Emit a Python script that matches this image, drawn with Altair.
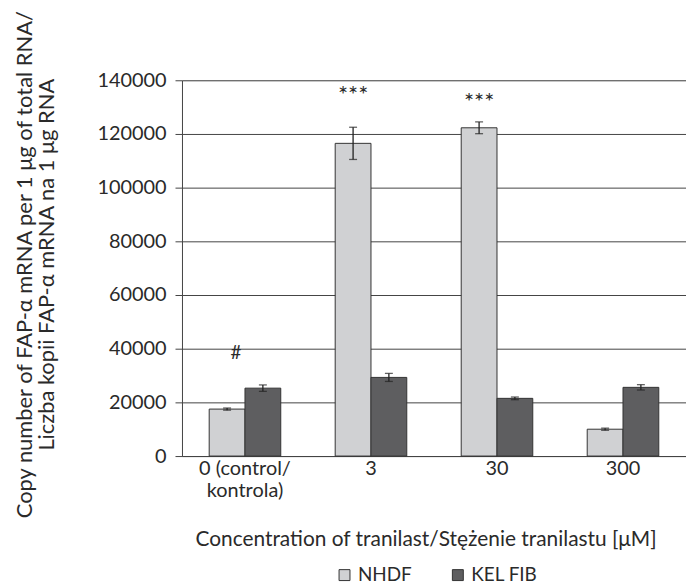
import altair as alt
import pandas as pd

categories = ["0 (control/|kontrola)", "3", "30", "300"]
series = ["NHDF", "KEL FIB"]
nhdf_values = [17500, 116500, 122300, 10000]
nhdf_err = [400, 6000, 2200, 400]
kel_values = [25300, 29300, 21500, 25600]
kel_err = [1200, 1500, 500, 1000]
y_ticks = [0, 20000, 40000, 60000, 80000, 100000, 120000, 140000]

star_cat = ["3", "30"]
star_series = ["NHDF", "NHDF"]
star_text = ["***", "***"]
star_y = [134000, 131500]
hash_cat = ["0 (control/|kontrola)"]
hash_series = ["NHDF"]
hash_text = ["#"]
hash_y = [38500]

rows = []
for i, c in enumerate(categories):
    rows.append({"cat": c, "series": "NHDF", "v": nhdf_values[i], "lo": nhdf_values[i] - nhdf_err[i], "hi": nhdf_values[i] + nhdf_err[i]})
    rows.append({"cat": c, "series": "KEL FIB", "v": kel_values[i], "lo": kel_values[i] - kel_err[i], "hi": kel_values[i] + kel_err[i]})
df = pd.DataFrame(rows)
stars = pd.DataFrame({"cat": star_cat, "series": star_series, "t": star_text, "y": star_y})
hashes = pd.DataFrame({"cat": hash_cat, "series": hash_series, "t": hash_text, "y": hash_y})

FONT = "Lato"
TXT = "#2a2a2a"
xscale = alt.Scale(domain=categories, paddingInner=0.432, paddingOuter=0.216)
xoff_scale = alt.Scale(domain=series, paddingInner=0, paddingOuter=0)
xoff = alt.XOffset("series:N", scale=xoff_scale)
yscale = alt.Scale(domain=[0, 140000], nice=False)

x_enc = alt.X(
    "cat:N", scale=xscale, sort=categories,
    axis=alt.Axis(
        title="Concentration of tranilast/Stężenie tranilastu [μM]",
        labelExpr="split(datum.label, '|')",
        labelAngle=0, labelFont=FONT, labelFontSize=20, labelColor=TXT,
        labelLineHeight=22, labelPadding=3, ticks=False, domain=True,
        domainColor="#444", titleFont=FONT, titleFontSize=21, titleFontWeight="normal",
        titleColor=TXT, titleX=245, titleY=90, titleBaseline="alphabetic", titleAnchor="middle",
    ),
)
y_axis = alt.Axis(
    values=y_ticks, format="d", grid=True, gridColor="#444", gridWidth=1,
    domainColor="#444", tickColor="#444", tickSize=7,
    labelFont=FONT, labelFontSize=20, labelColor=TXT, labelPadding=9,
    title=["Copy number of FAP-α mRNA per 1 μg of total RNA/", "Liczba kopii FAP-α mRNA na 1 μg RNA"],
    titleFont=FONT, titleFontSize=22, titleFontWeight="normal", titleColor=TXT,
    titleAngle=270, titleX=-151, titleY=185, titleAlign="center", titleBaseline="alphabetic",
    titleLineHeight=22,
)

base = alt.Chart(df)
bars = base.mark_bar(stroke="#333", strokeWidth=1).encode(
    x=x_enc,
    xOffset=xoff,
    y=alt.Y("v:Q", scale=yscale, axis=y_axis),
    color=alt.Color(
        "series:N",
        scale=alt.Scale(domain=series, range=["#d0d1d3", "#5e5e60"]),
        legend=alt.Legend(
            title=None, orient="none", direction="horizontal", legendX=154, legendY=488,
            labelFont=FONT, labelFontSize=19, labelColor=TXT, symbolType="square",
            symbolSize=121, symbolStrokeColor="#333", symbolStrokeWidth=1, columnPadding=36,
            labelOffset=4,
        ),
    ),
)
xpos = alt.X("cat:N", scale=xscale, sort=categories)
rules = base.mark_rule(color="#222", strokeWidth=1.3).encode(
    x=xpos, xOffset=xoff, y=alt.Y("lo:Q", scale=yscale), y2="hi:Q",
)
cap_lo = base.mark_tick(color="#222", orient="horizontal", size=8, thickness=1.3).encode(
    x=xpos, xOffset=xoff, y=alt.Y("lo:Q", scale=yscale),
)
cap_hi = base.mark_tick(color="#222", orient="horizontal", size=8, thickness=1.3).encode(
    x=xpos, xOffset=xoff, y=alt.Y("hi:Q", scale=yscale),
)
star_marks = alt.Chart(stars).mark_text(font=FONT, fontSize=24, color=TXT, baseline="middle").encode(
    x=xpos, xOffset=alt.XOffset("series:N", scale=xoff_scale),
    y=alt.Y("y:Q", scale=yscale), text="t:N",
)
hash_marks = alt.Chart(hashes).mark_text(font=FONT, fontSize=19, color=TXT, baseline="middle", dx=9).encode(
    x=xpos, xOffset=alt.XOffset("series:N", scale=xoff_scale),
    y=alt.Y("y:Q", scale=yscale), text="t:N",
)

chart = alt.layer(bars, rules, cap_lo, cap_hi, star_marks, hash_marks).properties(
    width=507, height=378,
    autosize=alt.AutoSizeParams(type="none"),
    padding={"left": 175, "top": 71, "right": 0, "bottom": 128},
).configure_view(stroke=None).configure(background="white")

chart.save("out.html", embed_options={"renderer": "svg", "actions": False})
